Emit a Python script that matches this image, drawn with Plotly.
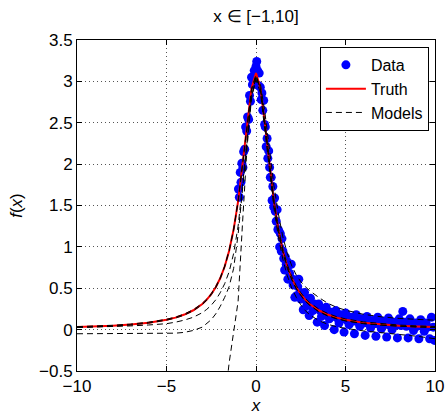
import plotly.graph_objects as go

# ---- data ----
x_data = [-0.98, -0.93, -0.88, -0.84, -0.79, -0.73, -0.69, -0.63, -0.58, -0.52,
          -0.47, -0.41, -0.36, -0.31, -0.25, -0.20, -0.15, -0.10, -0.05, 0.00,
          0.04, 0.09, 0.13, 0.18, 0.24, 0.29, 0.33, 0.38, 0.43, 0.48,
          0.52, 0.57, 0.62, 0.66, 0.71, 0.76, 0.80, 0.85, 0.90, 0.94,
          0.99, 1.04, 1.08, 1.13, 1.18, 1.22, 1.27, 1.32, 1.36, 1.41,
          1.45, 1.50, 1.55, 1.60, 1.64, 1.69, 1.74, 1.78, 1.83, 1.88,
          1.92, 1.97, 2.02, 2.07, 2.12, 2.17, 2.22, 2.27, 2.33, 2.39,
          2.45, 2.51, 2.58, 2.64, 2.71, 2.77, 2.84, 2.90, 2.97, 3.04,
          3.11, 3.18, 3.26, 3.34, 3.42, 3.50, 3.58, 3.66, 3.74, 3.83,
          3.92, 4.01, 4.10, 4.19, 4.28, 4.37, 4.46, 4.55, 4.64, 4.73,
          4.82, 4.92, 5.01, 5.10, 5.20, 5.30, 5.40, 5.50, 5.60, 5.70,
          5.80, 5.90, 6.00, 6.10, 6.20, 6.30, 6.40, 6.50, 6.60, 6.70,
          6.80, 6.90, 7.00, 7.10, 7.20, 7.30, 7.40, 7.50, 7.60, 7.70,
          7.80, 7.90, 8.00, 8.10, 8.20, 8.30, 8.40, 8.50, 8.60, 8.70,
          8.80, 8.90, 9.00, 9.10, 9.20, 9.30, 9.40, 9.50, 9.60, 9.70,
          9.80, 9.90, 9.97]
y_data = [1.70, 1.60, 1.90, 1.78, 2.01, 1.96, 2.15, 2.18, 2.45, 2.40,
          2.57, 2.54, 2.83, 2.76, 3.05, 2.96, 2.98, 3.13, 2.97, 3.18,
          3.24, 3.13, 2.95, 3.10, 2.93, 2.78, 2.86, 2.65, 2.77, 2.48,
          2.45, 2.21, 2.31, 2.07, 2.16, 1.96, 1.84, 1.84, 1.56, 1.73,
          1.48, 1.59, 1.43, 1.31, 1.45, 1.21, 1.20, 1.00, 1.16, 0.95,
          1.10, 0.95, 0.86, 0.72, 0.88, 0.79, 0.82, 0.61, 0.78, 0.68,
          0.61, 0.79, 0.61, 0.54, 0.60, 0.39, 0.60, 0.41, 0.52, 0.61,
          0.44, 0.37, 0.44, 0.24, 0.45, 0.36, 0.29, 0.37, 0.17, 0.38,
          0.29, 0.23, 0.31, 0.27, 0.09, 0.31, 0.23, 0.16, 0.21, 0.05,
          0.27, 0.18, 0.13, 0.21, 0.16, 0.00, 0.23, 0.14, 0.08, 0.18,
          0.13, -0.03, 0.20, 0.11, 0.06, 0.15, 0.10, -0.05, 0.18, 0.09,
          0.04, 0.13, 0.08, -0.07, 0.16, 0.07, 0.02, 0.11, 0.07, -0.08,
          0.15, 0.06, 0.01, 0.10, 0.06, -0.09, 0.14, 0.05, 0.00, 0.09,
          0.05, -0.10, 0.13, 0.05, 0.22, 0.09, 0.04, -0.10, 0.13, 0.04,
          -0.01, 0.08, 0.04, -0.11, 0.12, 0.04, -0.02, 0.08, 0.03, -0.11,
          0.15, 0.03, -0.13]

x_curve = [-10, -9, -8, -7, -6, -5, -4.5, -4, -3.5, -3, -2.75, -2.5, -2.25, -2,
           -1.75, -1.5, -1.25, -1, -0.75, -0.5, -0.25, 0, 0.25, 0.5, 0.75, 1,
           1.25, 1.5, 1.75, 2, 2.25, 2.5, 2.75, 3, 3.5, 4, 4.5, 5, 6, 7, 8, 9, 10]
truth = [0.031, 0.038, 0.048, 0.062, 0.084, 0.119, 0.145, 0.182, 0.234, 0.31,
         0.362, 0.428, 0.512, 0.62, 0.763, 0.954, 1.209, 1.55, 1.984, 2.48,
         2.918, 3.1, 2.918, 2.48, 1.984, 1.55, 1.209, 0.954, 0.763, 0.62,
         0.512, 0.428, 0.362, 0.31, 0.234, 0.182, 0.145, 0.119, 0.084, 0.062,
         0.048, 0.038, 0.031]
model_1 = [0.036, 0.043, 0.053, 0.067, 0.09, 0.125, 0.151, 0.189, 0.241, 0.318,
           0.37, 0.436, 0.52, 0.628, 0.77, 0.96, 1.215, 1.555, 1.99, 2.48,
           2.91, 3.08, 2.91, 2.49, 2.0, 1.57, 1.23, 0.975, 0.785, 0.64,
           0.532, 0.447, 0.38, 0.327, 0.25, 0.196, 0.157, 0.13, 0.094, 0.07,
           0.055, 0.045, 0.038]
model_2 = [0.026, 0.033, 0.043, 0.057, 0.079, 0.114, 0.14, 0.176, 0.228, 0.303,
           0.355, 0.421, 0.505, 0.614, 0.757, 0.948, 1.203, 1.545, 1.978, 2.47,
           2.9, 3.06, 2.9, 2.46, 1.96, 1.52, 1.18, 0.93, 0.74, 0.6,
           0.49, 0.41, 0.345, 0.295, 0.22, 0.17, 0.134, 0.108, 0.074, 0.053,
           0.04, 0.031, 0.025]
model_3 = [0.025, 0.03, 0.036, 0.045, 0.056, 0.072, 0.09, 0.115, 0.15, 0.205,
           0.245, 0.295, 0.36, 0.445, 0.555, 0.7, 0.92, 1.25, 1.75, 2.32,
           2.82, 3.04, 2.96, 2.62, 2.17, 1.74, 1.4, 1.12, 0.92, 0.77,
           0.66, 0.58, 0.52, 0.47, 0.39, 0.32, 0.27, 0.235, 0.185, 0.155,
           0.135, 0.122, 0.113]
model_4 = [-0.05, -0.05, -0.05, -0.05, -0.05, -0.048, -0.043, -0.033, -0.01, 0.03,
           0.07, 0.12, 0.19, 0.28, 0.39, 0.52, 0.74, 1.15, 1.7, 2.3,
           2.82, 3.05, 2.92, 2.5, 2.0, 1.56, 1.21, 0.95, 0.76, 0.61,
           0.5, 0.41, 0.345, 0.295, 0.215, 0.165, 0.13, 0.105, 0.072, 0.053,
           0.042, 0.034, 0.03]
model_5 = [-9.0, -8.0, -7.0, -6.0, -5.0, -4.2, -3.7, -3.2, -2.7, -2.2,
           -1.95, -1.7, -1.45, -1.2, -0.88, -0.4, -0.02, 0.34, 1.3, 2.2,
           2.8, 3.02, 2.86, 2.42, 1.92, 1.47, 1.12, 0.85, 0.65, 0.5,
           0.39, 0.3, 0.23, 0.18, 0.11, 0.065, 0.035, 0.015, -0.015, -0.035,
           -0.055, -0.08, -0.11]
models = [model_1, model_2, model_3, model_4, model_5]

x_ticks = [-10, -5, 0, 5, 10]
x_tick_text = ["\u221210", "\u22125", "0", "5", "10"]
y_ticks = [-0.5, 0, 0.5, 1, 1.5, 2, 2.5, 3, 3.5]
y_tick_text = ["\u22120.5", "0", "0.5", "1", "1.5", "2", "2.5", "3", "3.5"]

FONT = "Liberation Sans, Arial, Helvetica, sans-serif"

fig = go.Figure()
fig.add_trace(go.Scatter(x=x_data, y=y_data, mode="markers", name="Data",
                         marker=dict(color="#0000ff", size=9, line=dict(width=0))))
fig.add_trace(go.Scatter(x=x_curve, y=truth, mode="lines", name="Truth",
                         line=dict(color="#ff0000", width=2)))
for i, m in enumerate(models):
    fig.add_trace(go.Scatter(x=x_curve, y=m, mode="lines", name="Models",
                             legendgroup="models", showlegend=(i == 0),
                             line=dict(color="black", width=1, dash="6px,4px")))

axis_common = dict(showline=True, linecolor="black", linewidth=1, mirror="ticks",
                   ticks="inside", ticklen=5, tickcolor="black", zeroline=False,
                   showgrid=True, gridcolor="#555555", gridwidth=1, griddash="1px,3px",
                   automargin=False,
                   tickfont=dict(family=FONT, size=17, color="black"))

fig.update_layout(
    width=447, height=419,
    margin=dict(l=77, r=12, t=40, b=48),
    paper_bgcolor="white", plot_bgcolor="white",
    font=dict(family=FONT, size=17, color="black"),
    title=dict(text="x \u2208 [\u22121,10]", x=0.5, xref="paper", xanchor="center",
               y=1 - 16 / 419, yref="container", yanchor="middle",
               font=dict(family=FONT, size=17, color="black")),
    xaxis=dict(range=[-10, 10], tickvals=x_ticks, ticktext=x_tick_text,
               title=dict(text="<i>x</i>", standoff=2, font=dict(size=17)),
               **axis_common),
    yaxis=dict(range=[-0.5, 3.5], tickvals=y_ticks, ticktext=y_tick_text,
               title=dict(text="<i>f</i>(<i>x</i>)", standoff=12, font=dict(size=17)),
               **axis_common),
    legend=dict(x=0.983, y=0.979, xanchor="right", yanchor="top",
                bgcolor="white", bordercolor="black", borderwidth=1,
                font=dict(family=FONT, size=16, color="black"),
                tracegroupgap=0, itemwidth=40),
    showlegend=True,
)

fig.write_html("out.html")
